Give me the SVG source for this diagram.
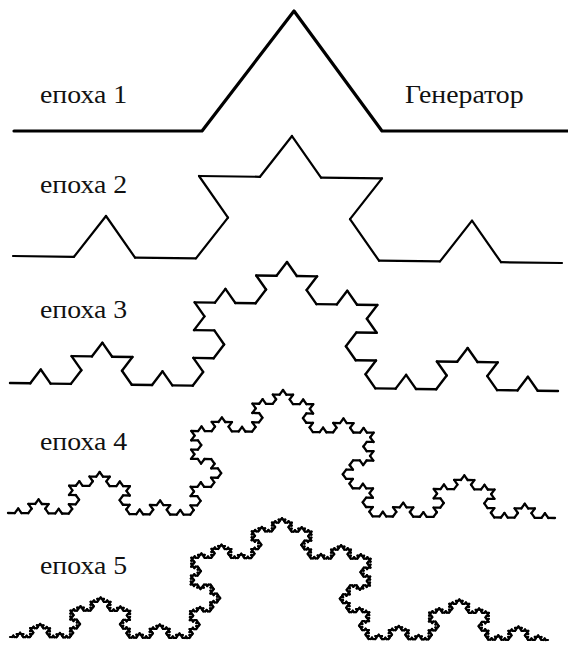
<svg xmlns="http://www.w3.org/2000/svg" xmlns:xlink="http://www.w3.org/1999/xlink" width="568" height="645" viewBox="0 0 568 645">
<style>
.k { fill: none; stroke: #000; stroke-linecap: round; stroke-linejoin: round; }
.lbl { font-family: "Liberation Serif", "DejaVu Serif", serif; font-size: 26px; fill: #111; }
</style>
<defs>
<line id="k0" x1="0" y1="0" x2="1" y2="0" vector-effect="non-scaling-stroke"/>
<g id="k1">
<use href="#k0" transform="scale(0.3333333)"/>
<use href="#k0" transform="translate(0.3333333,0) rotate(-60) scale(0.3333333)"/>
<use href="#k0" transform="translate(0.5,-0.2886751) rotate(60) scale(0.3333333)"/>
<use href="#k0" transform="translate(0.6666667,0) scale(0.3333333)"/>
</g>
<g id="k2">
<use href="#k1" transform="scale(0.3333333)"/>
<use href="#k1" transform="translate(0.3333333,0) rotate(-60) scale(0.3333333)"/>
<use href="#k1" transform="translate(0.5,-0.2886751) rotate(60) scale(0.3333333)"/>
<use href="#k1" transform="translate(0.6666667,0) scale(0.3333333)"/>
</g>
<g id="k3">
<use href="#k2" transform="scale(0.3333333)"/>
<use href="#k2" transform="translate(0.3333333,0) rotate(-60) scale(0.3333333)"/>
<use href="#k2" transform="translate(0.5,-0.2886751) rotate(60) scale(0.3333333)"/>
<use href="#k2" transform="translate(0.6666667,0) scale(0.3333333)"/>
</g>
<g id="k4">
<use href="#k3" transform="scale(0.3333333)"/>
<use href="#k3" transform="translate(0.3333333,0) rotate(-60) scale(0.3333333)"/>
<use href="#k3" transform="translate(0.5,-0.2886751) rotate(60) scale(0.3333333)"/>
<use href="#k3" transform="translate(0.6666667,0) scale(0.3333333)"/>
</g>
<g id="k5">
<use href="#k4" transform="scale(0.3333333)"/>
<use href="#k4" transform="translate(0.3333333,0) rotate(-60) scale(0.3333333)"/>
<use href="#k4" transform="translate(0.5,-0.2886751) rotate(60) scale(0.3333333)"/>
<use href="#k4" transform="translate(0.6666667,0) scale(0.3333333)"/>
</g>
</defs>
<rect width="568" height="645" fill="#fff"/>
<g id="epoch1">
<polyline class="k" stroke-width="3.2" points="14,131 202,131 294,11 382,131 568,131"/>
<text class="lbl" transform="translate(40,103) scale(1.07,1)">епоха 1</text>
<text class="lbl" transform="translate(405,103) scale(1.07,1)">Генератор</text>
</g>
<g id="epoch2">
<use class="k" stroke-width="2.2" href="#k2" transform="matrix(549 7 -15.6 427.8 13 256)"/>
<text class="lbl" transform="translate(40,193) scale(1.07,1)">епоха 2</text>
</g>
<g id="epoch3">
<use class="k" stroke-width="2.4" href="#k3" transform="matrix(548 8 -10.4 433 10 383)"/>
<text class="lbl" transform="translate(40,318) scale(1.07,1)">епоха 3</text>
</g>
<g id="epoch4">
<use class="k" stroke-width="2.3" href="#k4" transform="matrix(547 5 -5.2 434.7 8 513)"/>
<text class="lbl" transform="translate(40,450) scale(1.07,1)">епоха 4</text>
</g>
<g id="epoch5">
<use class="k" stroke-width="2.2" href="#k5" transform="matrix(538 3 -10.4 417 10 637)"/>
<text class="lbl" transform="translate(40,574) scale(1.07,1)">епоха 5</text>
</g>
</svg>
